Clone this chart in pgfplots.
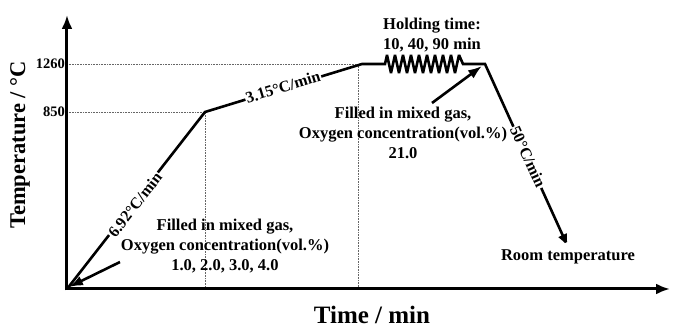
\documentclass[border=0pt]{standalone}
\usepackage{pgfplots}
\pgfplotsset{compat=1.18}
\usetikzlibrary{arrows.meta}
\usepackage{fontspec}
\setmainfont{Liberation Serif}
\begin{document}
\begin{tikzpicture}[font=\fontsize{16.5}{20}\selectfont\bfseries]
\begin{axis}[
  x=1pt, y=1pt,
  xmin=0, xmax=603, ymin=0, ymax=274,
  axis lines=left,
  axis line style={draw=none},
  x axis line style={draw=none},
  y axis line style={draw=none},
  clip=false,
  xtick=\empty,
  ytick={177,225},
  yticklabels={850,1260},
  major tick length=0pt,
  yticklabel style={font=\fontsize{14.5}{14.5}\selectfont\bfseries, inner sep=2pt},
  xlabel={Time / min},
  ylabel={Temperature / °C},
  xlabel style={font=\fontsize{25}{25}\selectfont\bfseries, at={(axis cs:305,-26)}, anchor=center},
  ylabel style={font=\fontsize{22.5}{22.5}\selectfont\bfseries, at={(axis cs:-47,144)}, anchor=center},
]
% full picture extent
\path (axis cs:-67,-40) rectangle (axis cs:606,289);
% dotted guide lines
\addplot[densely dotted, line width=0.6pt, gray!80!black] coordinates {(0,177) (138,177) (138,0)};
\addplot[densely dotted, line width=0.6pt, gray!80!black] coordinates {(0,225) (293,225)};
\addplot[densely dotted, line width=0.6pt, gray!80!black] coordinates {(291,225) (291,0)};
% heating / holding / cooling profile
\addplot[line width=2.6pt, line join=miter, miter limit=3, -{Latex[length=13pt,width=10pt]}] coordinates {
  (0,0) (138,177) (295,225) (318,225)
  (320,234) (324,216) (328,234) (332,216) (336,234) (340,216) (344,234)
  (348,216) (352,234) (356,216) (360,234) (364,216) (368,234) (372,216)
  (376,234) (380,216) (384,234) (388,216) (392,234) (396,225)
  (418,225) (501,42)};
% annotation arrows
\addplot[line width=2.6pt, -{Latex[length=14pt,width=10pt]}] coordinates {(53,27) (2,2)};
\addplot[line width=2.6pt, -{Latex[length=14pt,width=10pt]}] coordinates {(365,186) (415,223)};
% axis arrows
\draw[line width=3pt, -{Latex[length=14pt,width=11pt]}] (axis cs:-1.5,0) -- (axis cs:603,0);
\draw[line width=3pt, -{Latex[length=14pt,width=11pt]}] (axis cs:0,-1.5) -- (axis cs:0,274);
% rate labels
\node[fill=white, inner sep=1pt, rotate=52.1, font=\fontsize{16}{16}\selectfont\bfseries] at (axis cs:68,84) {6.92°C/min};
\node[fill=white, inner sep=1pt, rotate=17, font=\fontsize{16}{16}\selectfont\bfseries] at (axis cs:216,202) {3.15°C/min};
\node[fill=white, inner sep=1pt, rotate=-65.6, font=\fontsize{16}{16}\selectfont\bfseries] at (axis cs:461,132) {50°C/min};
% text blocks
\node[align=center] at (axis cs:158,43)
  {Filled in mixed gas,\\Oxygen concentration(vol.\%)\\1.0, 2.0, 3.0, 4.0};
\node[align=center] at (axis cs:336,156)
  {Filled in mixed gas,\\Oxygen concentration(vol.\%)\\21.0};
\node[align=center] at (axis cs:365,254)
  {Holding time:\\10, 40, 90 min};
\node[font=\fontsize{16.5}{16.5}\selectfont\bfseries] at (axis cs:501,32) {Room temperature};
\end{axis}
\end{tikzpicture}
\end{document}
